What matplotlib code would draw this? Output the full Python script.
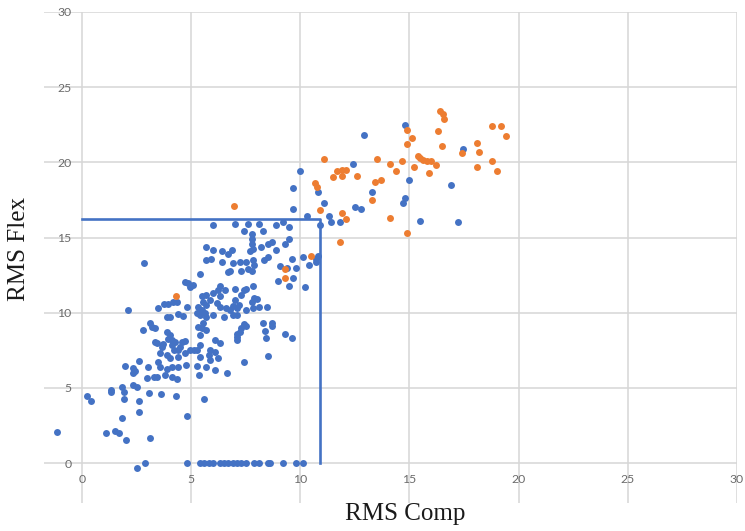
import numpy as np
import matplotlib
matplotlib.use("Agg")
import matplotlib.pyplot as plt

# RMS compression vs RMS flexion, two groups
blue = [
    # upper group
    (14.8, 22.5), (12.9, 21.85), (17.47, 20.9), (12.4, 19.9), (9.99, 19.43),
    (9.68, 18.3), (10.8, 18.0), (15.0, 18.83), (16.9, 18.5), (13.3, 18.0),
    (9.68, 16.9), (11.1, 17.3), (12.5, 17.0), (12.8, 16.9), (14.8, 17.6),
    (14.7, 17.3), (10.3, 16.4), (11.3, 16.4), (11.4, 16.0), (11.8, 16.0),
    (10.9, 15.8), (15.5, 16.1), (17.2, 16.0), (9.2, 16.05), (9.5, 15.7),
    # 14 - 16
    (6.0, 15.8), (7.0, 15.9), (7.6, 15.9), (8.1, 15.9), (8.9, 15.8),
    (7.4, 15.4), (7.8, 15.2), (8.3, 15.4), (7.77, 14.6), (7.77, 14.9),
    (8.2, 14.4), (8.5, 14.6), (8.7, 14.7), (9.3, 14.6), (9.5, 14.9),
    (7.7, 14.1), (7.85, 14.25), (8.9, 14.2), (6.0, 14.2), (6.4, 14.1),
    (6.7, 13.9), (5.7, 14.4), (6.86, 14.2),
    # 13 - 14
    (5.7, 13.5), (5.9, 13.55), (6.4, 13.4), (6.93, 13.3), (7.24, 13.4),
    (7.5, 13.4), (7.85, 13.5), (7.9, 13.2), (8.35, 13.5), (8.5, 13.7),
    (9.6, 13.6), (10.1, 13.7), (10.7, 13.6), (10.4, 13.2), (10.8, 13.75),
    (10.7, 13.4), (9.07, 13.1), (9.4, 13.0), (9.8, 13.0), (2.86, 13.3),
    # 12 - 13
    (6.8, 12.8), (6.7, 12.7), (7.3, 12.8), (7.6, 12.9), (7.8, 12.8),
    (5.4, 12.6), (9.0, 12.1), (9.68, 12.3), (9.5, 11.8), (10.2, 11.7),
    (4.7, 12.06), (4.87, 11.95), (4.95, 11.7), (5.07, 11.85),
    # 11 - 12
    (6.3, 11.8), (6.24, 11.5), (6.0, 11.3), (6.3, 11.1), (6.55, 11.5),
    (7.0, 11.55), (7.4, 11.5), (7.5, 11.55), (7.3, 11.2), (7.85, 11.8),
    (8.0, 10.9), (7.8, 10.7), (7.9, 11.0), (5.5, 11.1), (5.7, 11.2),
    (5.86, 10.85), (5.56, 10.7),
    # 10 - 11
    (5.33, 10.4), (5.5, 10.2), (5.63, 9.95), (5.7, 9.7), (5.4, 9.85),
    (5.25, 9.95), (6.2, 10.65), (6.3, 10.4), (6.6, 10.3), (6.8, 10.2),
    (7.1, 10.3), (7.0, 10.85), (7.2, 10.5), (7.5, 10.2), (7.85, 10.3),
    (8.1, 10.4), (8.46, 10.4), (6.9, 10.45), (7.1, 9.85), (5.7, 10.5),
    (3.5, 10.3), (3.75, 10.6), (3.95, 10.6), (4.15, 10.7), (4.35, 10.7),
    (4.8, 10.4), (2.12, 10.18),
    # 9 - 10
    (3.9, 9.7), (4.05, 9.7), (4.4, 9.9), (4.64, 9.8), (6.0, 9.85),
    (6.5, 9.7), (6.93, 9.85), (3.1, 9.3), (3.2, 9.07), (3.34, 8.96),
    (2.8, 8.85), (7.4, 9.25), (7.5, 9.1), (7.3, 8.95), (7.25, 8.7),
    (7.1, 8.6), (8.3, 9.3), (8.7, 9.3), (8.7, 9.1), (5.56, 9.3),
    (5.5, 8.96), (5.33, 9.07), (5.7, 8.85),
    # 8 - 9
    (3.9, 8.74), (4.03, 8.5), (3.95, 8.23), (7.1, 8.4), (7.1, 8.2),
    (8.4, 8.8), (8.43, 8.3), (9.3, 8.6), (9.6, 8.3), (5.4, 8.5),
    (6.1, 8.18), (3.34, 8.07), (3.42, 7.96), (3.65, 7.74), (3.72, 7.92),
    (4.1, 8.18), (4.26, 8.07), (4.57, 8.07), (4.7, 8.1),
    # 7 - 8
    (4.1, 7.85), (4.2, 7.5), (4.5, 7.74), (4.4, 7.5), (6.3, 7.96),
    (5.86, 7.5), (6.1, 7.4), (5.8, 7.2), (6.24, 6.97), (5.86, 6.85),
    (3.57, 7.3), (3.9, 7.2), (4.03, 6.97), (4.4, 7.03), (4.7, 7.34),
    (4.95, 7.5), (5.13, 7.5), (5.4, 7.85), (5.25, 7.5), (5.4, 7.07),
    (8.5, 7.1), (7.4, 6.74),
    # 5 - 7
    (1.97, 6.45), (2.35, 6.3), (2.6, 6.8), (3.04, 6.37), (3.5, 6.74),
    (3.57, 6.37), (3.9, 6.24), (4.1, 6.4), (4.4, 6.4), (4.76, 6.54),
    (5.25, 6.45), (5.7, 6.4), (6.1, 6.2), (6.63, 5.97), (5.37, 5.85),
    (2.96, 5.65), (3.3, 5.75), (3.45, 5.7), (3.8, 5.85), (4.1, 5.75),
    (4.34, 5.6), (2.35, 5.97), (2.43, 6.1),
    # low
    (-1.16, 2.04), (0.21, 4.46), (0.41, 4.13), (1.31, 4.86), (1.31, 4.7),
    (1.82, 5.08), (1.94, 4.74), (1.94, 4.26), (2.32, 5.19), (2.53, 5.03),
    (2.63, 4.13), (2.61, 3.41), (1.82, 2.97), (1.1, 1.97), (1.51, 2.13),
    (1.71, 1.97), (2.02, 1.53), (3.11, 1.64), (2.53, -0.35), (3.08, 4.68),
    (3.6, 4.57), (4.3, 4.46), (4.8, 3.15), (5.6, 4.24),
]

# samples with zero flexion
zero_comp = [2.9, 4.8, 5.4, 5.6, 5.8, 6.0, 6.3, 6.5, 6.7, 6.9, 7.1, 7.3,
             7.5, 7.9, 8.1, 8.5, 8.6, 9.2, 9.8, 10.1]

orange = [
    (16.4, 23.44), (16.55, 23.2), (16.6, 22.9), (18.77, 22.42), (19.18, 22.42),
    (19.4, 21.76), (14.87, 22.15), (15.1, 21.6), (14.87, 21.2), (16.29, 22.1),
    (16.48, 21.1), (18.08, 21.3), (18.2, 20.7), (17.39, 20.6), (18.77, 20.1),
    (18.08, 19.7), (19.0, 19.43), (11.1, 20.2), (13.5, 20.2), (14.1, 19.9),
    (14.67, 20.1), (15.4, 20.45), (15.5, 20.27), (15.6, 20.16), (15.8, 20.1),
    (16.0, 20.1), (16.2, 19.8), (15.9, 19.3), (15.2, 19.7), (14.4, 19.4),
    (11.7, 19.4), (11.9, 19.5), (12.1, 19.5), (11.5, 19.0), (11.9, 19.1),
    (12.6, 19.1), (13.4, 18.7), (13.7, 18.8), (10.67, 18.65), (10.78, 18.34),
    (13.3, 17.5), (10.9, 16.83), (11.9, 16.6), (12.1, 16.2), (14.1, 16.3),
    (14.87, 15.28), (11.8, 14.7), (10.5, 13.8), (9.3, 12.9), (9.3, 12.3),
    (6.98, 17.1), (4.3, 11.1),
]

# cut-off values
comp_cut = 10.9
flex_cut = 16.2

ticks = [0, 5, 10, 15, 20, 25, 30]

blue_c = "#4472C4"
orange_c = "#ED7D31"

bx, by = np.array(blue).T
ox, oy = np.array(orange).T
bx = np.concatenate([bx, zero_comp])
by = np.concatenate([by, np.zeros(len(zero_comp))])

fig = plt.figure(figsize=(7.45, 5.31), dpi=100)
ax = fig.add_axes([44 / 745, 28 / 531, 693 / 745, 491 / 531])

ax.scatter(bx, by, s=25, color=blue_c, linewidths=0, zorder=3)
ax.scatter(ox, oy, s=25, color=orange_c, linewidths=0, zorder=4)
ax.plot([0, comp_cut, comp_cut], [flex_cut, flex_cut, 0], color=blue_c,
        lw=1.9, zorder=5)

ax.set_xlim(-1.74, 30)
ax.set_ylim(-2.66, 30)
ax.set_xticks(ticks)
ax.set_yticks(ticks)
ax.grid(True, color="#d6d6d6", lw=1.1, zorder=0)
ax.set_axisbelow(True)
for sp in ax.spines.values():
    sp.set_visible(False)

ax.tick_params(axis="both", length=0, labelsize=8.8, labelcolor="#6b6b6b")
ax.tick_params(axis="y", pad=-20)
ax.tick_params(axis="x", pad=-21)
for lab in ax.get_xticklabels() + ax.get_yticklabels():
    lab.set_fontfamily("Lato")

fig.text(405 / 745, 1 - 514 / 531, "RMS Comp", ha="center", va="center",
         family="Liberation Serif", fontsize=18, color="#1a1a1a")
fig.text(19 / 745, 1 - 249 / 531, "RMS Flex", ha="center", va="center",
         rotation=90, family="Liberation Serif", fontsize=18, color="#1a1a1a")

fig.savefig("out.png", dpi=100)
